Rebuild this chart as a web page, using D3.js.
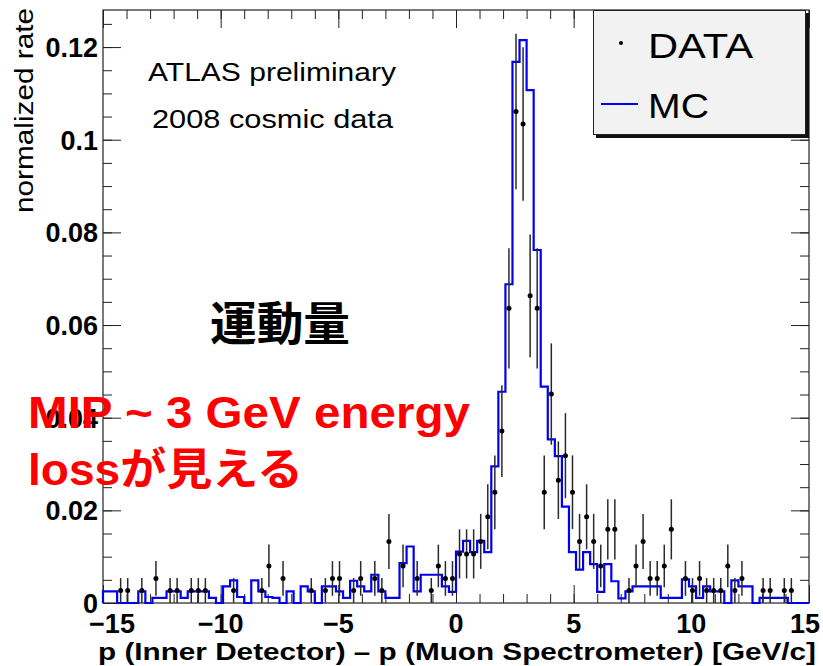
<!DOCTYPE html>
<html>
<head>
<meta charset="utf-8">
<script src="https://cdn.jsdelivr.net/npm/d3@7"></script>
<style>
body { margin: 0; background: #fff; }
text { font-family: "Liberation Sans", Arial, "Noto Sans CJK JP", sans-serif; }
</style>
</head>
<body>
<script>
var w = 823;
var h = 666;

// 100 bins of 0.3 GeV from -15 to 15
var xMin = -15;
var xMax = 15;
var binWidth = 0.3;
var eventWeight = 0.00265; // rate of one data event

var dataRate = [
    0, 0, 0.0027, 0.0027, 0, 0.0027, 0, 0.0053, 0, 0.0027,
    0.0027, 0, 0.0027, 0.0027, 0.0027, 0, 0, 0, 0.0027, 0,
    0, 0, 0.0027, 0.0080, 0, 0.0053, 0, 0, 0, 0.0027,
    0, 0.0027, 0.0053, 0.0053, 0, 0.0027, 0.0053, 0, 0.0053, 0.0027,
    0.0133, 0, 0.0080, 0, 0.0053, 0, 0.0027, 0.0080, 0.0053, 0.0053,
    0.0106, 0.0106, 0.0106, 0.0133, 0.0186, 0.0239, 0.0371, 0.0636, 0.1061, 0.1034,
    0.0663, 0.0636, 0.0239, 0.0451, 0.0265, 0.0318, 0.0239, 0.0133, 0.0186, 0.0133,
    0.0080, 0.0159, 0.0159, 0, 0.0027, 0.0080, 0.0133, 0.0053, 0.0053, 0.0080,
    0.0159, 0, 0.0053, 0.0027, 0.0053, 0.0027, 0.0027, 0.0027, 0.0080, 0.0027,
    0.0053, 0, 0, 0.0027, 0.0027, 0, 0.0027, 0.0027, 0, 0
];

var mcRate = [
    0.0025, 0.0025, 0, 0, 0, 0.0025, 0, 0.0011, 0.0011, 0.0025,
    0.0025, 0.0011, 0.0025, 0.0025, 0.0025, 0.0011, 0, 0.0036, 0.0049, 0.0013,
    0, 0.0049, 0.0025, 0.0013, 0.0011, 0, 0.0025, 0, 0.0036, 0.0025,
    0, 0.0036, 0.0036, 0.0025, 0.0011, 0.0048, 0.0036, 0.0025, 0.0061, 0.0025,
    0.0011, 0.0011, 0.0086, 0.0122, 0.0025, 0.0061, 0.0061, 0.0061, 0.0036, 0.0024,
    0.0111, 0.0134, 0.0110, 0.0134, 0.0110, 0.0295, 0.0456, 0.0688, 0.1168, 0.1215,
    0.1107, 0.0762, 0.0467, 0.0353, 0.0317, 0.0208, 0.0110, 0.0072, 0.0110, 0.0084,
    0.0024, 0.0084, 0.0047, 0.0010, 0.0025, 0.0036, 0.0036, 0.0036, 0.0036, 0.0011,
    0.0011, 0.0011, 0.0051, 0.0036, 0.0011, 0.0036, 0.0025, 0.0025, 0, 0.0049,
    0.0036, 0.0036, 0, 0.0011, 0.0011, 0.0011, 0.0011, 0, 0, 0
];

var xTicks = [-15, -10, -5, 0, 5, 10, 15];
var xTickLabels = ["\u221215", "\u221210", "\u22125", "0", "5", "10", "15"];
var yTicks = [0, 0.02, 0.04, 0.06, 0.08, 0.1, 0.12];
var yTickLabels = ["0", "0.02", "0.04", "0.06", "0.08", "0.1", "0.12"];
var legendLabels = ["DATA", "MC"];

var xTitle = "p (Inner Detector) \u2013 p (Muon Spectrometer) [GeV/c]";
var yTitle = "normalized rate";

var frameL = 103, frameR = 809, frameT = 10, frameB = 603;

var xScale = d3.scaleLinear()
    .domain([xMin, xMax])
    .range([frameL, frameR]);

var yScale = d3.scaleLinear()
    .domain([0, 0.128])
    .range([frameB, frameT]);

var svg = d3.select("body")
    .append("svg")
    .attr("width", w)
    .attr("height", h);

var axisColor = "#222";

function cleanAxis(g) {
    g.select(".domain").remove();
    g.selectAll(".tick text").remove();
    g.selectAll(".tick line").attr("stroke", axisColor);
}

var xMinor = d3.range(xMin, xMax + 1);
var yMinor = d3.range(0, 26).map(function (i) { return i * 0.005; });

// ticks on all four sides, pointing inward
svg.append("g").attr("transform", "translate(0," + frameB + ")")
    .call(d3.axisBottom(xScale).tickValues(xMinor).tickSize(-9)).call(cleanAxis);
svg.append("g").attr("transform", "translate(0," + frameB + ")")
    .call(d3.axisBottom(xScale).tickValues(xTicks).tickSize(-18)).call(cleanAxis);
svg.append("g").attr("transform", "translate(0," + frameT + ")")
    .call(d3.axisTop(xScale).tickValues(xMinor).tickSize(-9)).call(cleanAxis);
svg.append("g").attr("transform", "translate(0," + frameT + ")")
    .call(d3.axisTop(xScale).tickValues(xTicks).tickSize(-18)).call(cleanAxis);
svg.append("g").attr("transform", "translate(" + frameL + ",0)")
    .call(d3.axisLeft(yScale).tickValues(yMinor).tickSize(-9)).call(cleanAxis);
svg.append("g").attr("transform", "translate(" + frameL + ",0)")
    .call(d3.axisLeft(yScale).tickValues(yTicks).tickSize(-18)).call(cleanAxis);
svg.append("g").attr("transform", "translate(" + frameR + ",0)")
    .call(d3.axisRight(yScale).tickValues(yMinor).tickSize(-9)).call(cleanAxis);
svg.append("g").attr("transform", "translate(" + frameR + ",0)")
    .call(d3.axisRight(yScale).tickValues(yTicks).tickSize(-18)).call(cleanAxis);

svg.append("rect")
    .attr("x", frameL)
    .attr("y", frameT)
    .attr("width", frameR - frameL)
    .attr("height", frameB - frameT)
    .attr("fill", "none")
    .attr("stroke", axisColor)
    .attr("stroke-width", 1.2);

// MC histogram outline
var mcPoints = [[xMin, 0]];
mcRate.forEach(function (d, i) {
    mcPoints.push([xMin + i * binWidth, d]);
});
mcPoints.push([xMax, 0]);

var stepLine = d3.line()
    .x(function (d) { return xScale(d[0]); })
    .y(function (d) { return yScale(d[1]); })
    .curve(d3.curveStepAfter);

svg.append("path")
    .datum(mcPoints)
    .attr("d", stepLine)
    .attr("fill", "none")
    .attr("stroke", "#0000f0")
    .attr("stroke-width", 2.2);

// data points with Poisson error bars
var dataPoints = dataRate.map(function (d, i) {
    return { x: xMin + (i + 0.5) * binWidth, v: d, err: Math.sqrt(d * eventWeight) };
}).filter(function (d) { return d.v > 0; });

svg.selectAll("line.err")
    .data(dataPoints)
    .enter()
    .append("line")
    .attr("class", "err")
    .attr("x1", function (d) { return xScale(d.x); })
    .attr("x2", function (d) { return xScale(d.x); })
    .attr("y1", function (d) { return yScale(d.v + d.err); })
    .attr("y2", function (d) { return yScale(Math.max(0, d.v - d.err)); })
    .attr("stroke", "#2a2a2a")
    .attr("stroke-width", 1.5);

svg.selectAll("circle.pt")
    .data(dataPoints)
    .enter()
    .append("circle")
    .attr("class", "pt")
    .attr("cx", function (d) { return xScale(d.x); })
    .attr("cy", function (d) { return yScale(d.v); })
    .attr("r", 2.5)
    .attr("fill", "#000");

// tick labels
svg.selectAll("text.xl")
    .data(xTicks)
    .enter()
    .append("text")
    .attr("class", "xl")
    .attr("x", function (d) { return Math.max(112, Math.min(xScale(d), 805)); })
    .attr("y", 633)
    .attr("text-anchor", "middle")
    .style("font-size", "27px")
    .style("font-weight", "bold")
    .text(function (d, i) { return xTickLabels[i]; });

svg.selectAll("text.yl")
    .data(yTicks)
    .enter()
    .append("text")
    .attr("class", "yl")
    .attr("x", 98)
    .attr("y", function (d) { return yScale(d) + 10; })
    .attr("text-anchor", "end")
    .style("font-size", "27px")
    .style("font-weight", "bold")
    .text(function (d, i) { return yTickLabels[i]; });

// axis titles
svg.append("text")
    .attr("x", 98)
    .attr("y", 660)
    .attr("textLength", 718)
    .attr("lengthAdjust", "spacingAndGlyphs")
    .style("font-size", "24px")
    .style("font-weight", "bold")
    .text(xTitle);

svg.append("text")
    .attr("transform", "translate(33,8) rotate(-90)")
    .attr("text-anchor", "end")
    .attr("textLength", 205)
    .attr("lengthAdjust", "spacingAndGlyphs")
    .style("font-size", "25px")
    .text(yTitle);

// annotations
svg.append("text")
    .attr("x", 148).attr("y", 81)
    .attr("textLength", 248).attr("lengthAdjust", "spacingAndGlyphs")
    .style("font-size", "26px")
    .text("ATLAS preliminary");

svg.append("text")
    .attr("x", 152).attr("y", 128)
    .attr("textLength", 241).attr("lengthAdjust", "spacingAndGlyphs")
    .style("font-size", "26px")
    .text("2008 cosmic data");

svg.append("text")
    .attr("x", 210).attr("y", 340)
    .attr("textLength", 140).attr("lengthAdjust", "spacingAndGlyphs")
    .style("font-family", "'Noto Sans CJK JP', sans-serif")
    .style("font-size", "46px")
    .style("font-weight", "bold")
    .text("運動量");

svg.append("text")
    .attr("x", 28).attr("y", 428)
    .attr("textLength", 442).attr("lengthAdjust", "spacingAndGlyphs")
    .style("font-size", "44px")
    .style("font-weight", "bold")
    .style("fill", "#ff0000")
    .text("MIP ~ 3 GeV energy");

svg.append("text")
    .attr("x", 28).attr("y", 485)
    .attr("textLength", 275).attr("lengthAdjust", "spacingAndGlyphs")
    .style("font-size", "44px")
    .style("font-weight", "bold")
    .style("fill", "#ff0000")
    .text("lossが見える");

// legend
var legend = svg.append("g");
legend.append("rect")
    .attr("x", 596).attr("y", 13)
    .attr("width", 213).attr("height", 125)
    .attr("fill", "#111");
legend.append("rect")
    .attr("x", 593.5).attr("y", 10.5)
    .attr("width", 212).attr("height", 124)
    .attr("fill", "#f2f2f2")
    .attr("stroke", "#222");

legend.selectAll("text")
    .data(legendLabels)
    .enter()
    .append("text")
    .attr("x", 648)
    .attr("y", function (d, i) { return 58 + i * 60; })
    .attr("textLength", function (d, i) { return i == 0 ? 105 : 61; })
    .attr("lengthAdjust", "spacingAndGlyphs")
    .style("font-size", "35px")
    .text(function (d) { return d; });

legend.append("circle")
    .attr("cx", 621).attr("cy", 43).attr("r", 2)
    .attr("fill", "#000");
legend.append("line")
    .attr("x1", 601).attr("x2", 638)
    .attr("y1", 104).attr("y2", 104)
    .attr("stroke", "#0000f0")
    .attr("stroke-width", 2);
</script>
</body>
</html>
